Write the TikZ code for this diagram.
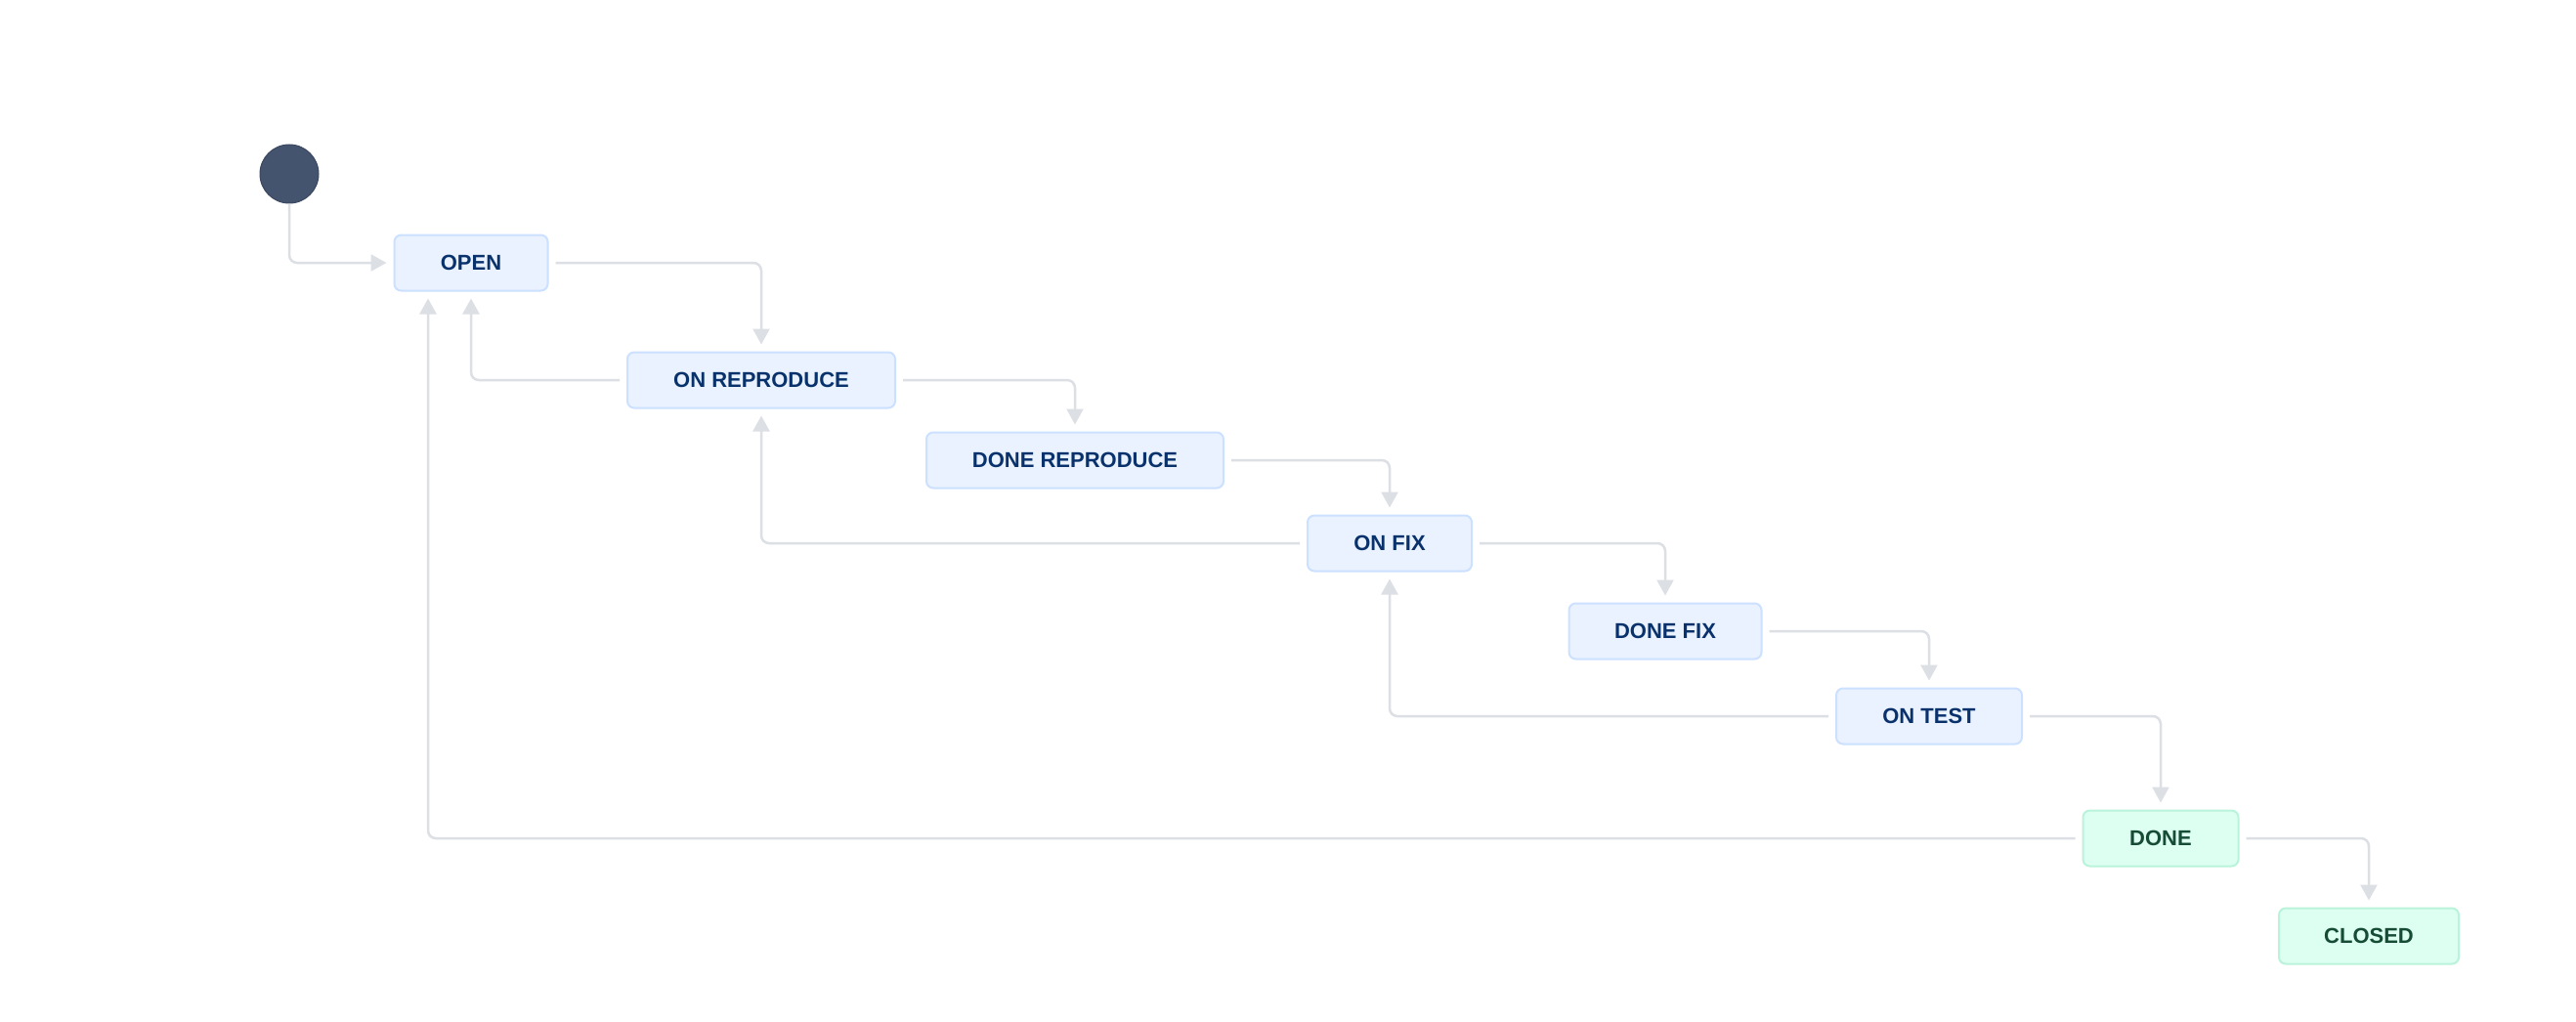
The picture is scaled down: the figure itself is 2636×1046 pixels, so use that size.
\documentclass[tikz,border=0pt]{standalone}
\usepackage{fontspec}
\setmainfont{Liberation Sans}
\usetikzlibrary{arrows.meta}
\definecolor{lineGray}{HTML}{DCDFE4}
\definecolor{boxBlue}{HTML}{E9F2FE}
\definecolor{boxBlueBorder}{HTML}{CCE0FF}
\definecolor{textBlue}{HTML}{09326C}
\definecolor{greenFill}{HTML}{DCFFF1}
\definecolor{greenBorder}{HTML}{BAF3DB}
\definecolor{textGreen}{HTML}{164B35}
\definecolor{startFill}{HTML}{44546F}
\begin{document}
\begin{tikzpicture}[x=1pt,y=-1pt,
  state/.style={draw=boxBlueBorder, fill=boxBlue, line width=2pt, rounded corners=7pt,
    minimum height=57pt, font=\fontsize{22}{26}\selectfont\bfseries, text=textBlue, inner sep=0pt},
  donestate/.style={state, draw=greenBorder, fill=greenFill, text=textGreen},
  conn/.style={draw=lineGray, line width=2.5pt, rounded corners=8pt,
    -{Triangle[length=16pt,width=17pt]}, shorten >=7pt, shorten <=7pt}]
\useasboundingbox[fill=white] (0,0) rectangle (2636,1046);

\node[circle, fill=startFill, draw=startFill!85!black, line width=1pt, minimum size=60pt, inner sep=0pt] (start) at (296,178) {};
\node[state, minimum width=157pt] (open) at (482,269) {OPEN};
\node[state, minimum width=274pt] (onrep) at (779,389) {ON REPRODUCE};
\node[state, minimum width=304pt] (donerep) at (1100,471) {DONE REPRODUCE};
\node[state, minimum width=168pt] (onfix) at (1422,556) {ON FIX};
\node[state, minimum width=197pt] (donefix) at (1704,646) {DONE FIX};
\node[state, minimum width=190pt] (ontest) at (1974,733) {ON TEST};
\node[donestate, minimum width=159pt] (done) at (2211,858) {DONE};
\node[donestate, minimum width=184pt] (closed) at (2424,958) {CLOSED};

\draw[conn, shorten <=0pt] (start.south) |- (open.west);
\draw[conn] (open.east) -| (onrep.north);
\draw[conn] (onrep.west) -| (open.south);
\draw[conn] (onrep.east) -| (donerep.north);
\draw[conn] (donerep.east) -| (onfix.north);
\draw[conn] (onfix.west) -| (onrep.south);
\draw[conn] (onfix.east) -| (donefix.north);
\draw[conn] (donefix.east) -| (ontest.north);
\draw[conn] (ontest.west) -| (onfix.south);
\draw[conn] (ontest.east) -| (done.north);
\draw[conn] (done.west) -| ([xshift=-44pt]open.south);
\draw[conn] (done.east) -| (closed.north);
\end{tikzpicture}
\end{document}
